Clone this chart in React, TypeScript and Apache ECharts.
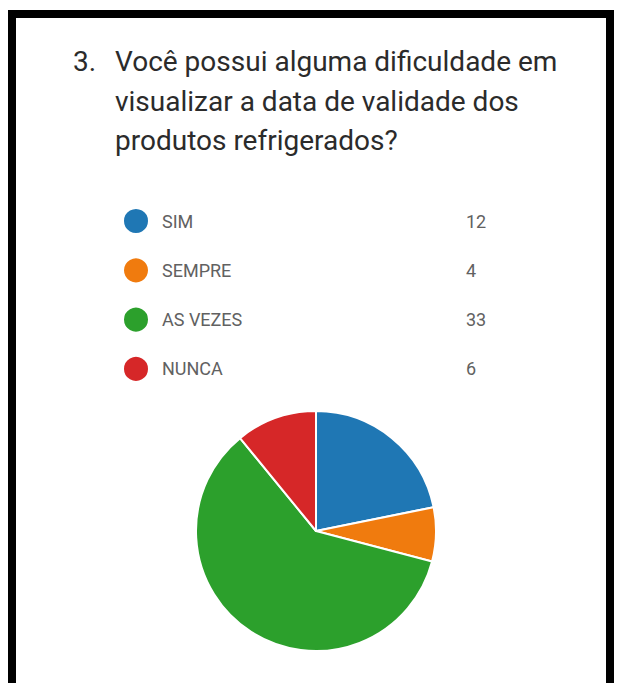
import React, { useEffect, useRef } from "react";
import * as echarts from "echarts";

const questionNumber = "3.";
const questionLines = [
  "Você possui alguma dificuldade em",
  "visualizar a data de validade dos",
  "produtos refrigerados?",
];
const categories = ["SIM", "SEMPRE", "AS VEZES", "NUNCA"];
const counts = [12, 4, 33, 6];
const colors = ["#1f77b4", "#f07b0e", "#2ca02c", "#d62728"];

export default function App() {
  const ref = useRef<HTMLDivElement>(null);
  useEffect(() => {
    if (!ref.current) return;
    const chart = echarts.init(ref.current, undefined, { renderer: "svg" });
    const data = categories.map((name, i) => ({ name, value: counts[i] }));
    const titleStyle = {
      fontFamily: "Roboto",
      fontSize: 28,
      fontWeight: "normal",
      color: "#2b2b2b",
      lineHeight: 39.5,
    };
    chart.setOption({
      animation: false,
      backgroundColor: "#ffffff",
      color: colors,
      title: [
        { text: questionNumber, left: 73, top: 42, padding: 0, textStyle: titleStyle },
        { text: questionLines.join("\n"), left: 115, top: 42, padding: 0, textStyle: titleStyle },
      ],
      legend: {
        orient: "vertical",
        left: 122,
        top: 207,
        padding: 0,
        icon: "circle",
        itemWidth: 26,
        itemHeight: 26,
        itemGap: 21.3,
        selectedMode: false,
        data: categories,
        formatter: (name: string) => {
          const i = categories.indexOf(name);
          return `{n|${name}}{v|${counts[i]}}`;
        },
        textStyle: {
          fontFamily: "Roboto",
          fontSize: 18,
          color: "#616161",
          rich: {
            n: { fontFamily: "Roboto", fontSize: 18, color: "#616161", width: 304, padding: [0, 0, 0, 8] },
            v: { fontFamily: "Roboto", fontSize: 18, color: "#616161" },
          },
        },
      },
      series: [
        {
          type: "pie",
          center: [316, 531],
          radius: [0, 120],
          startAngle: 90,
          clockwise: true,
          label: { show: false },
          labelLine: { show: false },
          itemStyle: { borderColor: "#ffffff", borderWidth: 2 },
          emphasis: { disabled: true },
          data,
        },
      ],
      graphic: [
        {
          type: "rect",
          shape: { x: 12, y: 14, width: 598, height: 700 },
          style: { fill: "none", stroke: "#000000", lineWidth: 8 },
          z: 100,
        },
      ],
    });
    return () => chart.dispose();
  }, []);
  return (
    <div
      ref={ref}
      style={{ position: "absolute", left: 0, top: 0, width: 622, height: 683 }}
    />
  );
}
